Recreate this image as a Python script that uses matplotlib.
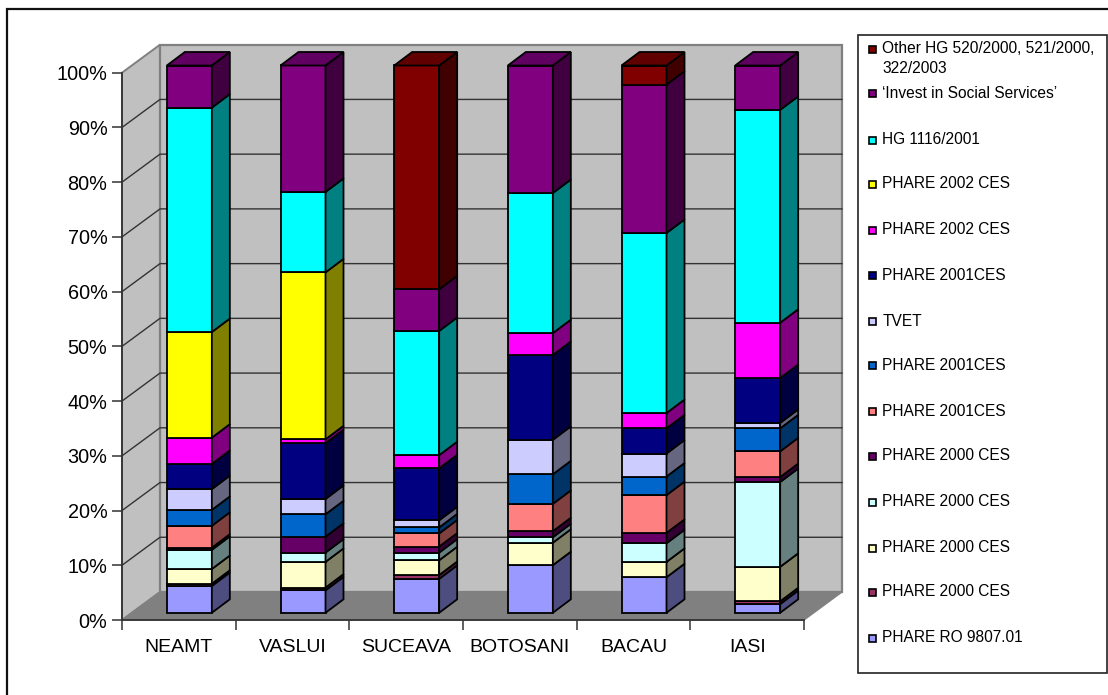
import matplotlib
matplotlib.use("Agg")
import matplotlib.pyplot as plt
from matplotlib.patches import Polygon, Rectangle
from matplotlib.ticker import PercentFormatter
import numpy as np

plt.rcParams["font.family"] = ["Liberation Sans", "DejaVu Sans"]

counties = ["NEAMT", "VASLUI", "SUCEAVA", "BOTOSANI", "BACAU", "IASI"]

# share of each programme per county, in percent, stacked bottom to top
phare_ro = [4.9, 4.1, 6.2, 8.7, 6.5, 1.6]
phare_2000_a = [0.4, 0.5, 0.7, 0.0, 0.0, 0.5]
phare_2000_b = [2.7, 4.7, 2.7, 4.1, 2.8, 6.3]
phare_2000_c = [3.5, 1.7, 1.4, 1.0, 3.4, 15.5]
phare_2000_d = [0.4, 2.9, 1.1, 1.1, 1.9, 0.9]
phare_2001_a = [4.0, 0.0, 2.4, 5.0, 6.9, 4.7]
phare_2001_b = [2.9, 4.1, 1.1, 5.4, 3.4, 4.2]
tvet = [3.8, 2.8, 1.3, 6.3, 4.2, 1.0]
phare_2001_c = [4.6, 10.2, 9.5, 15.5, 4.6, 8.2]
phare_2002_a = [4.8, 0.7, 2.4, 4.0, 2.8, 10.1]
phare_2002_b = [19.3, 30.5, 0.0, 0.0, 0.0, 0.0]
hg_1116 = [41.0, 14.7, 22.7, 25.6, 32.9, 38.9]
invest = [7.7, 23.1, 7.6, 23.3, 27.1, 8.1]
other_hg = [0.0, 0.0, 40.9, 0.0, 3.5, 0.0]

series = [phare_ro, phare_2000_a, phare_2000_b, phare_2000_c, phare_2000_d,
          phare_2001_a, phare_2001_b, tvet, phare_2001_c, phare_2002_a,
          phare_2002_b, hg_1116, invest, other_hg]

colors = ["#9999FF", "#993366", "#FFFFCC", "#CCFFFF", "#660066",
          "#FF8080", "#0066CC", "#CCCCFF", "#000080", "#FF00FF",
          "#FFFF00", "#00FFFF", "#800080", "#800000"]

legend_labels = ["Other HG 520/2000, 521/2000,\n322/2003",
                 "\u2018Invest in Social Services\u2019",
                 "HG 1116/2001", "PHARE 2002 CES", "PHARE 2002 CES",
                 "PHARE 2001CES", "TVET", "PHARE 2001CES", "PHARE 2001CES",
                 "PHARE 2000 CES", "PHARE 2000 CES", "PHARE 2000 CES",
                 "PHARE 2000 CES", "PHARE RO 9807.01"]
legend_y = [58.5, 93, 140, 184, 230, 275, 321, 365, 411, 456, 502, 548, 592, 638]

W, H = 1108, 695
fig = plt.figure(figsize=(W / 100, H / 100), dpi=100)

# helper layer in pixel coordinates for the frame and the legend box
bg = fig.add_axes([0, 0, 1, 1], zorder=0)
bg.set_xlim(0, W)
bg.set_ylim(H, 0)
bg.axis("off")
# the chart frame runs off the right and bottom of the canvas
bg.add_patch(Rectangle((7, 8.5), 1200, 800, fc="white", ec="#111111", lw=1.6))
bg.add_patch(Rectangle((857.5, 35), 249.5, 638, fc="white", ec="#222222", lw=1.2))

# the axes rectangle is the front plane of the fake 3D box
ax_l, ax_r, ax_t, ax_b = 122, 804, 72.7, 620
ax = fig.add_axes([ax_l / W, 1 - ax_b / H, (ax_r - ax_l) / W, (ax_b - ax_t) / H],
                  zorder=1)
ax.set_xlim(0, len(counties))
ax.set_ylim(0, 100)
ax.patch.set_visible(False)

# px to data units, used for the oblique depth
px_x = len(counties) / (ax_r - ax_l)
px_y = 100 / (ax_b - ax_t)
box_dx, box_dy = 38 * px_x, 28 * px_y

n = len(counties)
# walls and floor
ax.add_patch(Polygon([(0, 0), (box_dx, box_dy), (box_dx, 100 + box_dy), (0, 100)],
                     fc="#C0C0C0", ec="#808080", lw=1.4, clip_on=False, zorder=1))
ax.add_patch(Rectangle((box_dx, box_dy), n, 100, fc="#C0C0C0", ec="#808080",
                       lw=1.6, clip_on=False, zorder=1))
ax.add_patch(Polygon([(0, 0), (n, 0), (n + box_dx, box_dy), (box_dx, box_dy)],
                     fc="#808080", ec="#808080", lw=1, clip_on=False, zorder=1))

# gridlines run along the left wall and across the back wall
for v in range(10, 100, 10):
    ax.plot([0, box_dx, n + box_dx], [v, v + box_dy, v + box_dy],
            color="#333333", lw=1.0, clip_on=False, zorder=2)

# bars sit part way into the box depth
front_dx, front_dy = 10.5 * px_x, 7.2 * px_y
bar_dx, bar_dy = 18 * px_x, 13.5 * px_y
bar_w = 45 * px_x
centers = np.arange(n) + 0.5 + front_dx
edge = dict(edgecolor="black", linewidth=1.3, clip_on=False)

bottom = np.zeros(n)
for vals, color in zip(series, colors):
    vals = np.array(vals)
    rgb = np.array(matplotlib.colors.to_rgb(color))
    for i in range(n):
        if vals[i] <= 0:
            continue
        x0 = centers[i] - bar_w / 2
        x1 = x0 + bar_w
        y0 = bottom[i] + front_dy
        y1 = y0 + vals[i]
        ax.bar(x0, vals[i], width=bar_w, bottom=y0, align="edge", color=color,
               zorder=3, **edge)
        ax.add_patch(Polygon([(x1, y0), (x1 + bar_dx, y0 + bar_dy),
                              (x1 + bar_dx, y1 + bar_dy), (x1, y1)],
                             fc=rgb * 0.5, zorder=3, **edge))
    bottom += vals

# cap on every column, shaded from its uppermost segment
for i in range(n):
    top_color = [c for vals, c in zip(series, colors) if vals[i] > 0][-1]
    rgb = np.array(matplotlib.colors.to_rgb(top_color))
    x0 = centers[i] - bar_w / 2
    x1 = x0 + bar_w
    y1 = bottom[i] + front_dy
    ax.add_patch(Polygon([(x0, y1), (x1, y1), (x1 + bar_dx, y1 + bar_dy),
                          (x0 + bar_dx, y1 + bar_dy)],
                         fc=rgb * 0.75, zorder=3, **edge))

# axes
for side in ["top", "right"]:
    ax.spines[side].set_visible(False)
for side in ["left", "bottom"]:
    ax.spines[side].set_color("#333333")
    ax.spines[side].set_linewidth(1.3)
    ax.spines[side].set_zorder(4)
ax.set_yticks(np.arange(0, 101, 10))
ax.yaxis.set_major_formatter(PercentFormatter(100, decimals=0))
ax.set_xticks(np.arange(n + 1))
ax.set_xticklabels([])
ax.set_xticks(np.arange(n) + 0.5, labels=counties, minor=True)
ax.tick_params(axis="y", labelsize=14.3, length=7, width=1.1, color="#333333",
               pad=3.5, labelcolor="black")
ax.tick_params(axis="x", which="major", length=7, width=1.1, color="#333333")
ax.tick_params(axis="x", which="minor", length=0, labelsize=14, pad=14)

# legend, drawn by hand so the wrapped first entry keeps its tight spacing
for label, color, y in zip(legend_labels, colors[::-1], legend_y):
    key_y = 49 if "\n" in label else y
    bg.add_patch(Rectangle((869, key_y - 3.5), 7, 7, fc=color, ec="black", lw=1.2))
    bg.text(882.5, y, label, fontsize=11.2, va="center", ha="left", color="black",
            linespacing=1.45)

fig.savefig("out.png", dpi=100)
